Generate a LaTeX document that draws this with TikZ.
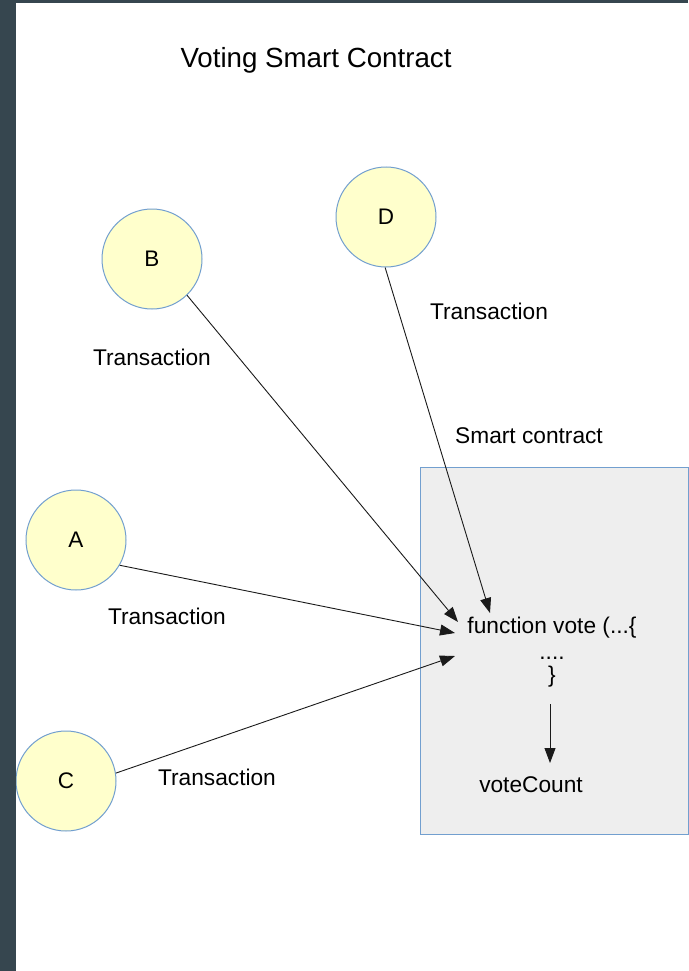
\documentclass[tikz,border=0pt]{standalone}
\usepackage{fontspec}
\setmainfont{Liberation Sans}
\usetikzlibrary{arrows.meta}
\definecolor{frame}{HTML}{36464F}
\definecolor{circfill}{HTML}{FFFFCC}
\definecolor{circline}{HTML}{729FCF}
\definecolor{boxfill}{HTML}{EEEEEE}
\definecolor{arrowcol}{HTML}{1A1A1A}
\begin{document}
\begin{tikzpicture}[x=1pt,y=-1pt,
  voter/.style={circle,draw=circline,fill=circfill,line width=1pt,minimum size=100pt,inner sep=0pt,font=\fontsize{22.5}{26}\selectfont},
  txt/.style={anchor=base,inner sep=0pt,font=\fontsize{22.7}{27}\selectfont},
  conn/.style={draw=arrowcol,line width=0.9pt,-{Triangle[length=15pt,width=11pt]}}]
\useasboundingbox (0,0) rectangle (688,971);
\fill[white] (0,0) rectangle (688,971);
% contract box
\node[draw=circline,fill=boxfill,line width=1pt,minimum width=268pt,minimum height=367pt,inner sep=0pt,anchor=north west] (box) at (419.5,466.5) {};
% voters
\node[voter] (B) at (152,259) {B};
\node[voter] (D) at (386,217) {D};
\node[voter] (A) at (76,540) {A};
\node[voter] (C) at (66,781) {C};
% texts
\node[txt,font=\fontsize{27.7}{32}\selectfont] (title) at (316,68) {Voting Smart Contract};
\node[txt] (tB) at (152,365) {Transaction};
\node[txt] (tD) at (489,319) {Transaction};
\node[txt] (tA) at (167,624) {Transaction};
\node[txt] (tC) at (217,785) {Transaction};
\node[txt] (sc) at (529,443) {Smart contract};
\node[txt] (fn) at (552,633) {function vote (...\{};
\node[txt] (dots) at (552,659) {....};
\node[txt] (brace) at (552,682) {\}};
\node[txt] (vc) at (531,792) {voteCount};
% arrow end points
\coordinate (eB) at (458,622);
\coordinate (eD) at (490,613);
\coordinate (eA) at (455,633);
\coordinate (eC) at (455,656);
\coordinate (sV) at (550,704);
\coordinate (eV) at (550,763);
\draw[conn] (B.-46) -- (eB);
\draw[conn] (D.-91) -- (eD);
\draw[conn] (A.-30) -- (eA);
\draw[conn] (C.9) -- (eC);
\draw[conn] (sV) -- (eV);
% dark frame
\fill[frame] (0,0) rectangle (688,3);
\fill[frame] (0,0) rectangle (16,971);
\end{tikzpicture}
\end{document}
